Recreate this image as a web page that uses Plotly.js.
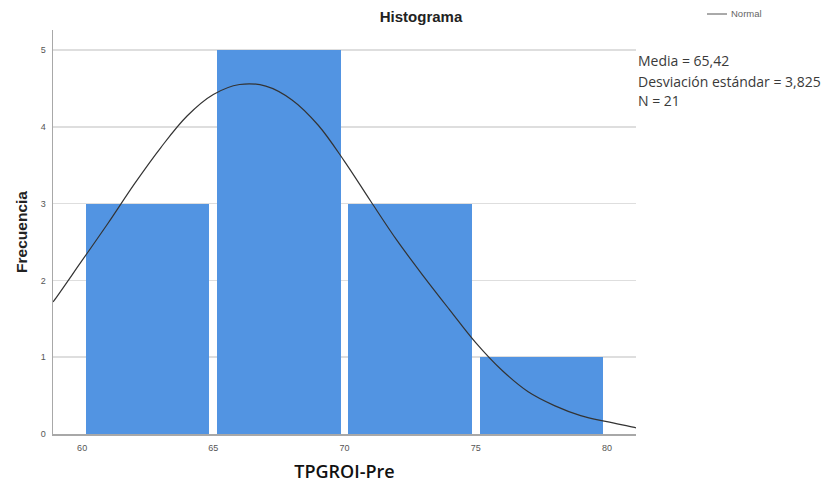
<!DOCTYPE html>
<html>
<head>
<meta charset="utf-8">
<script src="https://cdn.plot.ly/plotly-3.0.1.min.js"></script>
<style>html,body{margin:0;padding:0;background:#fff;}#chart{width:834px;height:487px;}</style>
</head>
<body>
<div id="chart"></div>
<script>
// Histogram bins (centres) and counts
const binCenters = [62.5, 67.5, 72.5, 77.5];
const counts = [3, 5, 3, 1];
// Normal curve
const curveX = [58.89, 59, 60, 61, 62, 63, 64, 65, 66, 67, 68, 69, 70, 71, 72, 73, 74, 75, 76, 77, 78, 79, 80, 81, 81.11];
const curveY = [1.72, 1.77, 2.26, 2.75, 3.26, 3.73, 4.14, 4.42, 4.55, 4.53, 4.35, 4.02, 3.55, 3.03, 2.52, 2.06, 1.62, 1.19, 0.83, 0.55, 0.37, 0.24, 0.16, 0.09, 0.08];
const xTicks = [60, 65, 70, 75, 80];
const yTicks = [0, 1, 2, 3, 4, 5];
const statsLines = ["Media = 65,42", "Desviación estándar = 3,825", "N = 21"];

const W = 834, H = 487, L = 53, R = 198, T = 30, B = 53;
const pw = W - L - R, ph = H - T - B;
const px = v => (v - L) / pw;           // pixel -> paper x
const py = v => (H - B - v) / ph;       // pixel -> paper y

const traces = [
  {type: 'bar', x: binCenters, y: counts, width: 4.7,
   marker: {color: '#5294e2', line: {width: 0}}, showlegend: false, hoverinfo: 'x+y'},
  {type: 'scatter', mode: 'lines', x: curveX, y: curveY, name: 'Normal',
   line: {color: '#333333', width: 1.2, shape: 'spline', smoothing: 1}, showlegend: false}
];

const annotations = statsLines.map((t, i) => ({
  text: t, xref: 'paper', yref: 'paper', x: px(636), y: py([61, 81, 100][i]),
  xanchor: 'left', yanchor: 'middle', showarrow: false,
  font: {family: 'Open Sans, sans-serif', size: 14, color: '#3a3a3a'}
}));
annotations.push({text: 'Normal', xref: 'paper', yref: 'paper', x: px(729), y: py(14),
  xanchor: 'left', yanchor: 'middle', showarrow: false,
  font: {family: 'Liberation Sans, Arial, sans-serif', size: 9.5, color: '#666'}});

const layout = {
  width: W, height: H,
  margin: {l: L, r: R, t: T, b: B, pad: 0},
  paper_bgcolor: '#fff', plot_bgcolor: '#fff',
  title: {text: '<b>Histograma</b>', x: px(421), xref: 'paper', xanchor: 'center',
          y: 1 - 17 / H, yref: 'container', yanchor: 'middle',
          font: {family: 'Liberation Sans, Arial, sans-serif', size: 15, color: '#222'}},
  xaxis: {range: [58.89, 81.11], tickvals: xTicks, ticktext: xTicks.map(String),
          showgrid: false, zeroline: false, showline: true, linecolor: '#a8a8a8', linewidth: 1.5,
          ticks: 'outside', ticklen: 5, tickcolor: 'rgba(0,0,0,0)',
          tickfont: {family: 'Liberation Sans, Arial, sans-serif', size: 9, color: '#555'},
          title: {text: 'TPGROI-Pre', standoff: 13,
                  font: {family: 'Open Sans, sans-serif', size: 18, weight: 600, color: '#111'}},
          fixedrange: true},
  yaxis: {range: [0, 5.26], tickvals: yTicks, ticktext: yTicks.map(String),
          showgrid: true, gridcolor: '#dedede', gridwidth: 1.5, zeroline: false,
          showline: true, linecolor: '#a8a8a8', linewidth: 1.5,
          ticks: 'outside', ticklen: 4, tickcolor: 'rgba(0,0,0,0)',
          tickfont: {family: 'Liberation Sans, Arial, sans-serif', size: 9, color: '#555'},
          title: {text: '<b>Frecuencia</b>', standoff: 9,
                  font: {family: 'Liberation Sans, Arial, sans-serif', size: 15.5, color: '#222'}},
          fixedrange: true},
  bargap: 0,
  showlegend: false,
  annotations: annotations,
  shapes: [{type: 'line', xref: 'paper', yref: 'paper', x0: px(707), x1: px(727), y0: py(14), y1: py(14),
            line: {color: '#555', width: 1}}]
};

Plotly.newPlot('chart', traces, layout, {displayModeBar: false, staticPlot: true});
</script>
</body>
</html>
